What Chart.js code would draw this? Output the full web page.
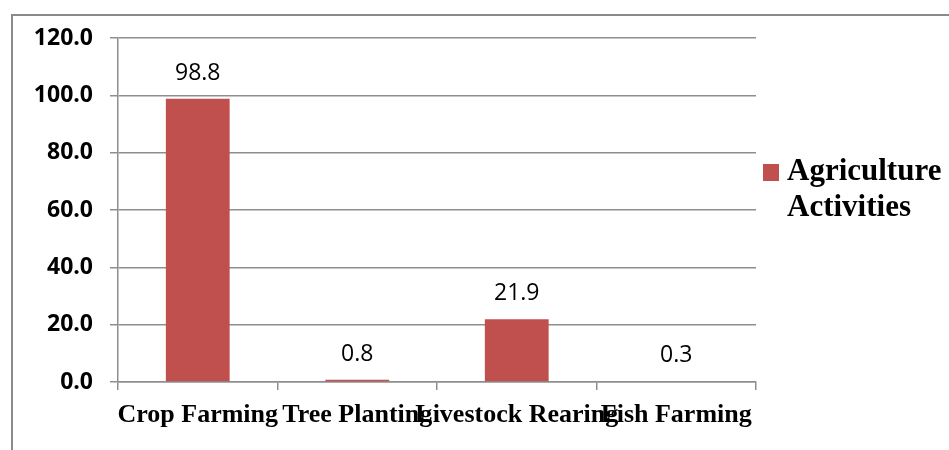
<!DOCTYPE html>
<html>
<head>
<meta charset="utf-8">
<script src="https://cdn.jsdelivr.net/npm/chart.js@4/dist/chart.umd.min.js"></script>
<style>
  html, body { margin: 0; padding: 0; background: #fff; }
  #wrap { width: 949px; height: 450px; position: relative; }
</style>
</head>
<body>
<div id="wrap"><canvas id="c" width="949" height="450"></canvas></div>
<script>
const categories = ["Crop Farming", "Tree Planting", "Livestock Rearing", "Fish Farming"];
const values = [98.8, 0.8, 21.9, 0.3];
const seriesName = "Agriculture Activities";
const yTicks = [0, 20, 40, 60, 80, 100, 120];

const barColor = "#C0504D";
const gridColor = "#8E8E8E";

const framePlugin = {
  id: "frame",
  beforeDraw(chart) {
    const ctx = chart.ctx;
    ctx.save();
    ctx.fillStyle = "#fff";
    ctx.fillRect(0, 0, chart.width, chart.height);
    ctx.strokeStyle = "#8A8A8A";
    ctx.lineWidth = 2;
    ctx.strokeRect(12, 15, chart.width + 20, chart.height + 20);
    ctx.restore();
  }
};

const labelPlugin = {
  id: "valueLabels",
  afterDatasetsDraw(chart) {
    const ctx = chart.ctx;
    const meta = chart.getDatasetMeta(0);
    ctx.save();
    ctx.fillStyle = "#000";
    ctx.font = "23px 'Open Sans'";
    ctx.textAlign = "center";
    ctx.textBaseline = "alphabetic";
    meta.data.forEach((bar, i) => {
      ctx.fillText(values[i].toFixed(1), bar.x, bar.y - 19);
    });
    ctx.restore();
  }
};

const legendPlugin = {
  id: "sideLegend",
  afterDraw(chart) {
    const ctx = chart.ctx;
    const area = chart.chartArea;
    const x0 = area.right + 7;
    ctx.save();
    ctx.fillStyle = barColor;
    ctx.fillRect(x0, 164, 16, 17);
    ctx.fillStyle = "#000";
    ctx.font = "bold 31px 'Liberation Serif'";
    ctx.textAlign = "left";
    ctx.textBaseline = "alphabetic";
    const words = chart.data.datasets[0].label.split(" ");
    words.forEach((w, i) => ctx.fillText(w, x0 + 24, 180 + i * 36));
    ctx.restore();
  }
};

new Chart(document.getElementById("c"), {
  type: "bar",
  data: {
    labels: categories,
    datasets: [{
      label: seriesName,
      data: values,
      backgroundColor: barColor,
      borderWidth: 0,
      barPercentage: 0.4,
      categoryPercentage: 1.0
    }]
  },
  options: {
    responsive: false,
    animation: false,
    devicePixelRatio: 1,
    layout: { padding: { left: 0, right: 193, top: 38, bottom: 0 } },
    plugins: {
      legend: { display: false },
      tooltip: { enabled: false }
    },
    scales: {
      x: {
        grid: {
          offset: true,
          drawOnChartArea: false,
          drawTicks: true,
          tickLength: 8,
          color: gridColor,
          lineWidth: 1.5
        },
        border: { display: true, color: gridColor, width: 1.5 },
        ticks: {
          autoSkip: false,
          maxRotation: 0,
          minRotation: 0,
          color: "#000",
          padding: 10,
          font: { family: "'Liberation Serif'", size: 26, weight: "bold" }
        },
        afterFit(s) { s.height = 68; }
      },
      y: {
        min: 0,
        max: 120,
        afterBuildTicks(s) { s.ticks = yTicks.map(v => ({ value: v })); },
        grid: {
          color: gridColor,
          lineWidth: 1.5,
          drawTicks: true,
          tickLength: 8
        },
        border: { display: true, color: gridColor, width: 1.5 },
        ticks: {
          color: "#000",
          padding: 17,
          font: { family: "'Open Sans'", size: 23, weight: "bold" },
          callback: v => Number(v).toFixed(1)
        },
        afterFit(s) { s.width = 118; }
      }
    }
  },
  plugins: [framePlugin, labelPlugin, legendPlugin]
});
</script>
</body>
</html>
